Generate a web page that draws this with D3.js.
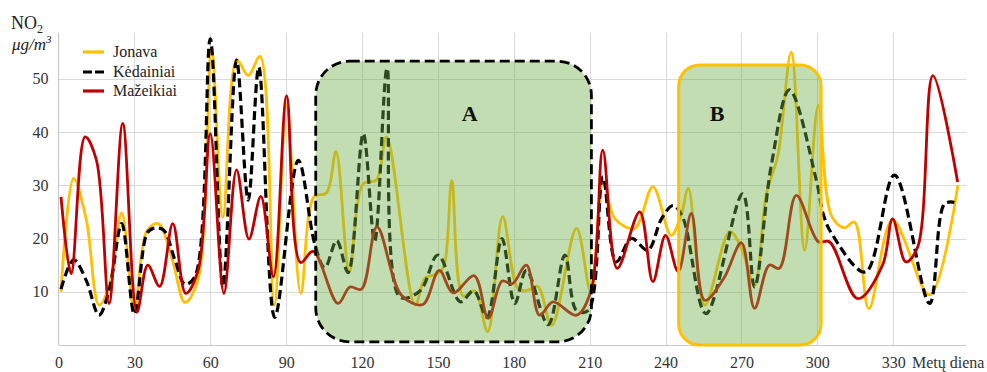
<!DOCTYPE html>
<html lang="lt">
<head>
<meta charset="utf-8">
<script src="https://cdn.jsdelivr.net/npm/d3@7"></script>
<style>
  html, body { margin: 0; padding: 0; background: #fff; }
  svg { display: block; }
  svg text { font-family: "Liberation Serif", "Times New Roman", serif; }
</style>
</head>
<body>
<svg id="chart" width="987" height="372"></svg>
<script>
// NO2 concentration (µg/m³) by day of year at three stations
const jonavaDays = [1, 6, 11, 16, 20, 25, 30, 35, 39.5, 45, 50, 55, 60.5, 65, 70.5, 75, 79.7, 85.3, 90.2, 95.8,
  101, 106, 109.7, 115, 120.5, 125.7, 129.7, 141, 145, 150, 152.5, 155.5, 160, 164.5, 169.7, 175.6, 181.6, 185, 189.5, 195,
  204.8, 210.5, 215.3, 220, 227.8, 235, 242.2, 246.2, 249, 255.5, 265.4, 270, 275.2, 279.8, 284.4, 289.7, 295, 300.4, 305.5, 310.7,
  314.7, 320.4, 329.8, 344.4, 355.6];
const jonavaValues = [10, 31.3, 23.5, 7.5, 11, 24.8, 6.5, 21.5, 22.8, 16, 8, 12, 55.5, 24, 53.5, 50.6, 54.2, 7.5, 45, 9.7,
  27.8, 28.6, 36.3, 13.8, 30.3, 31, 39.1, 7.5, 12.6, 13.4, 15, 30.9, 9.2, 10.2, 2.5, 24.1, 10.6, 10.2, 11, 3.7,
  21.9, 9.8, 30.6, 23.7, 21.9, 29.7, 20.6, 24.4, 29.4, 7.5, 21.3, 18.2, 11.2, 28.2, 35.6, 55, 17.8, 45, 24.4, 22,
  23.1, 6.8, 23.4, 9.4, 30];

const kedainiaiDays = [1, 6, 11, 16, 20, 25, 30, 35, 37.5, 41.5, 46, 50, 54, 60, 65, 70.4, 75, 79.2, 85.5, 94.8,
  101.3, 105.3, 110, 114.5, 120.5, 125, 129.9, 135, 143, 150, 158.9, 164.2, 169.4, 175.3, 180.4, 185, 193.6, 200.2, 204.8, 209.5,
  215.2, 220.5, 226.5, 233, 238.4, 243, 246.8, 256, 270.5, 275.2, 281.8, 289, 299.6, 302.4, 305.6, 319, 330.5, 344.4, 350.3, 354.2];
const kedainiaiValues = [10.5, 16, 12.1, 5.6, 10.3, 22.8, 5.8, 21, 21.9, 21.6, 16, 11.4, 12.9, 57.5, 11, 53.5, 27.2, 52.2, 5.2, 34.7,
  19, 14.5, 19.6, 13.6, 39.7, 19.5, 52, 9, 10.2, 16.9, 8.1, 10.2, 5.2, 20, 7.8, 14, 3.8, 16.9, 6.5, 6.5,
  31.6, 15.6, 20, 17.8, 23.7, 26.2, 24, 5.9, 28.4, 10.9, 33.7, 47.9, 31, 24.5, 21, 13.7, 31.9, 7.8, 26.5, 26.8];

const mazeikiaiDays = [1, 5, 10.5, 15, 20, 25.4, 31, 35.3, 40, 45.2, 50.3, 55.2, 60, 65.4, 70.4, 75.3, 80, 85, 90.2, 95.7,
  100.7, 110.5, 115.2, 119.8, 125.9, 135.5, 144, 150.5, 156, 164.4, 169.9, 175.4, 179.4, 185, 190.2, 195.5, 204.8, 210.6, 215.2, 220.9,
  229.8, 235, 240, 245, 250.2, 255.5, 263, 270, 275.2, 281, 285, 291.7, 300.4, 304.8, 316, 325.8, 329.8, 335, 339.7, 345.7, 355.5];
const mazeikiaiValues = [27.8, 13.4, 39.1, 34.7, 7.8, 41.6, 6.2, 15, 11, 22.8, 9.7, 14, 39.7, 9.7, 32.9, 19.9, 27.9, 12.8, 46.8, 15.5,
  17.6, 7.8, 10.9, 10.5, 22.2, 9.4, 7.6, 14, 9.8, 13, 5, 12, 11.5, 15, 5.6, 8.1, 5.6, 10.3, 36.6, 14.4,
  25, 11.9, 20.6, 13.8, 24.7, 8.4, 12.5, 19.2, 6.9, 15, 14.4, 28.1, 19.4, 19.4, 8.7, 15, 23.7, 15.6, 18.4, 50.6, 30.6];

const stationNames = ["Jonava", "Kėdainiai", "Mažeikiai"];
const xTickValues = [0, 30, 60, 90, 120, 150, 180, 210, 240, 270, 300, 330];
const yTickValues = [10, 20, 30, 40, 50];

// Highlighted periods (day range, concentration range)
const periodLabels = ["A", "B"];
const periodFrom = [101.7, 245.2];
const periodTo = [210.7, 301.5];
const periodTop = [53.3, 52.6];
const periodBottom = [0.6, 0];
const periodLabelDay = [162.6, 260.4];

const series = [
  { name: stationNames[0], days: jonavaDays, values: jonavaValues, color: "#FFC000", dash: null, width: 2.8 },
  { name: stationNames[1], days: kedainiaiDays, values: kedainiaiValues, color: "#000000", dash: "9,4.5", width: 3.2 },
  { name: stationNames[2], days: mazeikiaiDays, values: mazeikiaiValues, color: "#C00000", dash: null, width: 2.8 }
];

const svg = d3.select("#chart");
const plotLeft = 58.5, plotRight = 966.5, plotTop = 33, plotBottom = 345;
const serif = "Liberation Serif, Times New Roman, serif";

const x = d3.scaleLinear().domain([0, 359]).range([plotLeft, plotRight]);
const y = d3.scaleLinear().domain([0, 58.6]).range([plotBottom, plotTop]);

// Grid
const grid = svg.append("g").attr("stroke", "#d9d9d9").attr("stroke-width", 1);
grid.selectAll("line.h").data(yTickValues).join("line")
  .attr("x1", plotLeft).attr("x2", plotRight)
  .attr("y1", d => Math.round(y(d)) + 0.5).attr("y2", d => Math.round(y(d)) + 0.5);
grid.selectAll("line.v").data(xTickValues.filter(d => d > 0)).join("line")
  .attr("y1", plotTop).attr("y2", plotBottom)
  .attr("x1", d => Math.round(x(d)) + 0.5).attr("x2", d => Math.round(x(d)) + 0.5);

// Axis lines
svg.append("line").attr("x1", plotLeft).attr("x2", plotLeft).attr("y1", plotTop).attr("y2", plotBottom)
  .attr("stroke", "#c8c8c8").attr("stroke-width", 1.2);
svg.append("line").attr("x1", plotLeft).attr("x2", plotRight).attr("y1", plotBottom + 0.5).attr("y2", plotBottom + 0.5)
  .attr("stroke", "#c8c8c8").attr("stroke-width", 1.2);

// Y axis tick labels
const yAxis = svg.append("g").attr("transform", `translate(${plotLeft},0)`)
  .call(d3.axisLeft(y).tickValues(yTickValues).tickSize(0).tickPadding(10).tickFormat(d3.format("d")));
yAxis.attr("font-family", serif);
yAxis.select(".domain").remove();
yAxis.selectAll("text").attr("font-family", serif).attr("font-size", 16).attr("fill", "#333");

// X axis tick labels
const xAxis = svg.append("g").attr("transform", `translate(0,${plotBottom})`)
  .call(d3.axisBottom(x).tickValues(xTickValues).tickSize(0).tickPadding(12).tickFormat(d3.format("d")));
xAxis.attr("font-family", serif);
xAxis.select(".domain").remove();
xAxis.selectAll("text").attr("font-family", serif).attr("font-size", 16).attr("fill", "#333")
  .attr("dy", null).attr("y", 23);

svg.append("text").attr("x", 912).attr("y", 368).attr("font-family", serif)
  .attr("font-size", 16).attr("fill", "#333").text("Metų diena");

// Axis title
const t1 = svg.append("text").attr("x", 11).attr("y", 29).attr("font-family", serif)
  .attr("font-size", 18).attr("fill", "#222");
t1.append("tspan").text("NO");
t1.append("tspan").attr("font-size", 12).attr("dy", 4).text("2");
const t2 = svg.append("text").attr("x", 12).attr("y", 50).attr("font-family", serif)
  .attr("font-size", 17).attr("font-style", "italic").attr("fill", "#222");
t2.append("tspan").text("μg/m");
t2.append("tspan").attr("font-size", 11).attr("dy", -7).text("3");

// Lines
const line = d3.line()
  .x(d => x(d[0]))
  .y(d => y(d[1]))
  .curve(d3.curveCatmullRom.alpha(0.5));

svg.append("g").selectAll("path").data(series).join("path")
  .attr("d", s => line(s.days.map((d, i) => [d, s.values[i]])))
  .attr("fill", "none")
  .attr("stroke", s => s.color)
  .attr("stroke-width", s => s.width)
  .attr("stroke-dasharray", s => s.dash)
  .attr("stroke-linejoin", "round");

// Highlighted periods
const boxStyles = [
  { stroke: "#000000", dash: "10,5", radius: 34, width: 2.8 },
  { stroke: "#FFC000", dash: null, radius: 21, width: 3 }
];
periodLabels.forEach((label, i) => {
  const bx = x(periodFrom[i]), bw = x(periodTo[i]) - x(periodFrom[i]);
  const by = y(periodTop[i]), bh = y(periodBottom[i]) - y(periodTop[i]);
  const st = boxStyles[i];
  svg.append("rect")
    .attr("x", bx).attr("y", by).attr("width", bw).attr("height", bh)
    .attr("rx", st.radius).attr("ry", st.radius)
    .attr("fill", "#70AD47").attr("fill-opacity", 0.42)
    .attr("stroke", st.stroke).attr("stroke-width", st.width)
    .attr("stroke-dasharray", st.dash);
  svg.append("text")
    .attr("x", x(periodLabelDay[i])).attr("y", 120.5)
    .attr("text-anchor", "middle").attr("font-family", serif)
    .attr("font-size", 22).attr("font-weight", "bold").attr("fill", "#111")
    .text(label);
});

// Legend
const legend = svg.append("g");
const legendY = [52, 72, 91];
series.forEach((s, i) => {
  legend.append("line")
    .attr("x1", 83).attr("x2", 104).attr("y1", legendY[i]).attr("y2", legendY[i])
    .attr("stroke", s.color).attr("stroke-width", 3.2)
    .attr("stroke-dasharray", s.dash ? "9,3" : null);
  legend.append("text")
    .attr("x", 113).attr("y", legendY[i]).attr("dy", "0.33em").attr("font-family", serif)
    .attr("font-size", 16).attr("fill", "#222").text(s.name);
});
</script>
</body>
</html>
